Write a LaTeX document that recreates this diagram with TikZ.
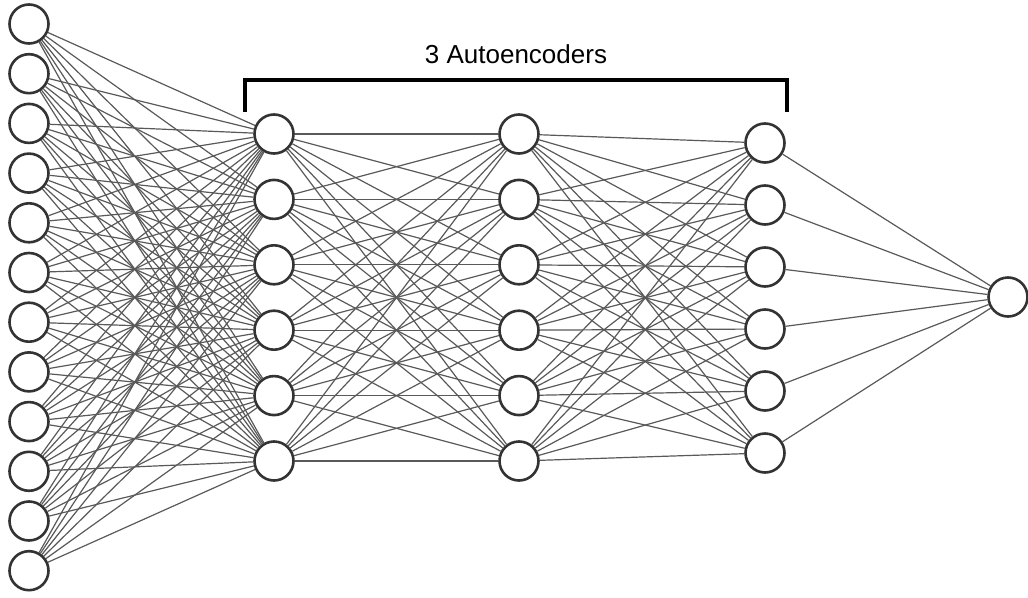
\documentclass[tikz,border=0pt]{standalone}
\usepackage{fontspec}
\setmainfont{Liberation Sans}
\begin{document}
\begin{tikzpicture}[x=1pt,y=-1pt,
    neuron/.style={circle,draw=black!80,line width=2.6pt,fill=white,minimum size=39pt,inner sep=0pt},
    conn/.style={black!65,line width=1.2pt}]
    \useasboundingbox (0,0) rectangle (1028,597);

    % layers
    \foreach \i in {1,...,12}
        \node[neuron] (in\i) at (29,{24+(\i-1)*49.7}) {};
    \foreach \i in {1,...,6}
        \node[neuron] (ha\i) at (274,{134+(\i-1)*65.4}) {};
    \foreach \i in {1,...,6}
        \node[neuron] (hb\i) at (519,{134+(\i-1)*65.4}) {};
    \foreach \i in {1,...,6}
        \node[neuron] (hc\i) at (765,{143+(\i-1)*62}) {};
    \node[neuron] (out) at (1008,297) {};

    % connections
    \foreach \i in {1,...,12}
        \foreach \j in {1,...,6}
            \draw[conn] (in\i) -- (ha\j);
    \foreach \i in {1,...,6}
        \foreach \j in {1,...,6}
        {
            \draw[conn] (ha\i) -- (hb\j);
            \draw[conn] (hb\i) -- (hc\j);
        }
    \foreach \i in {1,...,6}
        \draw[conn] (hc\i) -- (out);

    % bracket
    \coordinate (bl) at (245,112);
    \coordinate (br) at (787,112);
    \draw[black,line width=3.5pt] (bl) -- (bl |- 0,80) -- (br |- 0,80) -- (br);
    \node (title) at (516,54) {\fontsize{26}{30}\selectfont 3 Autoencoders};
\end{tikzpicture}
\end{document}
